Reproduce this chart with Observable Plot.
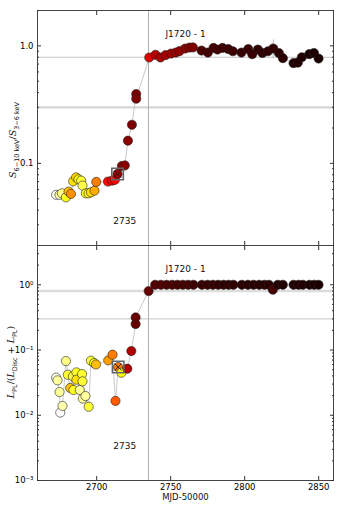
<!DOCTYPE html>
<html><head>
<meta charset="utf-8">
<script src="https://cdn.jsdelivr.net/npm/d3@7"></script>
<script src="https://cdn.jsdelivr.net/npm/@observablehq/plot@0.6"></script>
<style>
body{margin:0;background:#fff;font-family:"DejaVu Sans",sans-serif}
#c svg{display:block}
</style>
</head><body><div id="c"></div>
<script>
// ---------- data ----------
const topMjd = [2672.6, 2674.9, 2676.5, 2679.2, 2681.0, 2682.6, 2684.1, 2686.1, 2687.7, 2689.5, 2690.4, 2692.7, 2694.5, 2696.1, 2698.5, 2699.7,
  2707.6, 2710.3, 2712.3, 2714.1, 2717.0, 2719.0, 2721.1, 2723.8, 2726.7, 2726.7, 2735.5,
  2739.7, 2743.1, 2746.5, 2750.3, 2753.5, 2755.9, 2759.8, 2762.7, 2765.0, 2770.8, 2775.1, 2778.9, 2781.6, 2785.0, 2788.9, 2792.0,
  2797.8, 2802.4, 2805.1, 2808.9, 2812.0, 2815.7, 2819.3, 2823.1, 2825.8, 2833.0, 2835.9, 2838.6, 2843.6, 2846.8, 2849.9];
const topRatio = [0.054, 0.054, 0.0556, 0.0514, 0.0575, 0.055, 0.0703, 0.076, 0.0731, 0.0713, 0.0647, 0.0556, 0.0556, 0.0567, 0.0586, 0.0695,
  0.070, 0.0713, 0.0724, 0.0813, 0.095, 0.096, 0.156, 0.213, 0.389, 0.355, 0.796,
  0.839, 0.796, 0.834, 0.86, 0.877, 0.901, 0.949, 0.967, 0.97, 0.912, 0.877, 0.96, 0.93, 0.96, 0.94, 0.90,
  0.877, 0.94, 0.85, 0.93, 0.87, 0.90, 0.95, 0.87, 0.786, 0.713, 0.72, 0.80, 0.85, 0.87, 0.78];
const topErr = [0.07, 0.07, 0.07, 0.07, 0.07, 0.07, 0.07, 0.07, 0.07, 0.07, 0.07, 0.07, 0.07, 0.07, 0.07, 0.07,
  0.08, 0.08, 0.1, 0.1, 0.06, 0.06, 0.05, 0.05, 0.04, 0.04, 0.02,
  0.03, 0.03, 0.03, 0.03, 0.03, 0.03, 0.03, 0.03, 0.03, 0.03, 0.03, 0.03, 0.03, 0.03, 0.03, 0.03,
  0.03, 0.03, 0.05, 0.03, 0.03, 0.03, 0.18, 0.03, 0.03, 0.03, 0.03, 0.03, 0.03, 0.03, 0.03];
const topColor = [0.02, 0.08, 0.12, 0.22, 0.35, 0.42, 0.3, 0.32, 0.25, 0.2, 0.18, 0.22, 0.22, 0.3, 0.38, 0.45,
  0.62, 0.65, 0.63, 0.78, 0.8, 0.8, 0.8, 0.82, 0.82, 0.82, 0.68,
  0.74, 0.75, 0.76, 0.77, 0.78, 0.79, 0.8, 0.81, 0.82, 0.89, 0.9, 0.9, 0.9, 0.91, 0.91, 0.91,
  0.92, 0.92, 0.92, 0.93, 0.93, 0.93, 0.93, 0.94, 0.94, 0.95, 0.95, 0.95, 0.96, 0.96, 0.96];

const botMjd = [2672.6, 2673.5, 2674.9, 2675.4, 2676.9, 2679.2, 2680.5, 2682.1, 2683.9, 2684.3, 2686.3, 2686.3, 2688.6, 2690.1, 2690.4, 2690.6,
  2692.4, 2694.6, 2696.1, 2698.2, 2699.5, 2707.8, 2710.7, 2712.7, 2714.5, 2716.7, 2720.7, 2723.4, 2726.3, 2726.3, 2735.1,
  2739.5, 2743.4, 2747.2, 2751.0, 2754.6, 2758.2, 2761.8, 2765.4, 2771.1, 2774.9, 2778.5, 2782.1, 2785.7, 2789.1, 2792.4,
  2798.1, 2802.2, 2806.0, 2809.8, 2813.4, 2816.4, 2819.0, 2822.4, 2825.8, 2833.0, 2836.4, 2839.3, 2843.8, 2847.0, 2849.9];
const botFrac = [0.0377, 0.0343, 0.0227, 0.011, 0.0139, 0.0678, 0.0418, 0.0262, 0.0395, 0.0244, 0.0454, 0.0351, 0.0244, 0.0428, 0.0331, 0.018,
  0.0197, 0.0135, 0.0686, 0.063, 0.060, 0.0694, 0.0848, 0.0166, 0.0548, 0.0449, 0.0517, 0.0965, 0.25, 0.316, 0.80,
  1, 1, 1, 1, 1, 1, 1, 1, 1, 1, 1, 1, 1, 1, 1,
  1, 1, 1, 1, 1, 1, 0.84, 1, 1, 1, 1, 1, 1, 1, 1];
const botColor = [0.02, 0.1, 0.1, 0.0, 0.08, 0.12, 0.2, 0.35, 0.18, 0.22, 0.22, 0.3, 0.1, 0.2, 0.2, 0.1,
  0.1, 0.2, 0.18, 0.25, 0.35, 0.4, 0.45, 0.5, 0.45, 0.25, 0.75, 0.75, 0.85, 0.85, 0.85,
  0.88, 0.88, 0.89, 0.89, 0.9, 0.9, 0.9, 0.91, 0.92, 0.92, 0.92, 0.93, 0.93, 0.93, 0.93,
  0.94, 0.94, 0.94, 0.94, 0.94, 0.94, 0.9, 0.95, 0.95, 0.95, 0.95, 0.95, 0.96, 0.96, 0.96];

const topMarked = [2714.1];
const botMarked = [2714.5];

const xTicks = [2700, 2750, 2800, 2850];
const xDomain = [2660, 2860];
const topYDomain = [0.02, 2];
const topYTicks = [0.1, 1.0];
const topYTickLabels = ["0.1", "1.0"];
const topYMinor = [0.02, 0.03, 0.04, 0.05, 0.06, 0.07, 0.08, 0.09, 0.2, 0.3, 0.4, 0.5, 0.6, 0.7, 0.8, 0.9, 2];
const botYDomain = [0.001, 4];
const botYTicks = [0.001, 0.01, 0.1, 1];
const botYTickLabels = ["10\u207B\u00B3", "10\u207B\u00B2", "10\u207B\u00B9", "10\u2070"];
const botYMinor = [0.002, 0.003, 0.004, 0.005, 0.006, 0.007, 0.008, 0.009, 0.02, 0.03, 0.04, 0.05, 0.06, 0.07, 0.08, 0.09,
  0.2, 0.3, 0.4, 0.5, 0.6, 0.7, 0.8, 0.9, 2, 3, 4];
const transitionMjd = [2735];
const refLine08 = [0.8];
const refLine03 = [0.3];
const sourceLabel = "J1720 - 1";
const dateLabel = "2735";
const xAxisTitle = "MJD-50000";
const topAnno = [{x: 2760, y: 1.26, t: sourceLabel}, {x: 2719, y: 0.032, t: dateLabel}];
const botAnno = [{x: 2760, y: 1.76, t: sourceLabel}, {x: 2719, y: 0.0034, t: dateLabel}];

// ---------- helpers ----------
function hotR(c) {
  const t = 1 - c;
  const cl = v => Math.max(0, Math.min(1, v));
  const r = cl(t / 0.365), g = cl((t - 0.365) / 0.381), b = cl((t - 0.746) / 0.254);
  return d3.rgb(Math.round(r * 255), Math.round(g * 255), Math.round(b * 255)).formatHex();
}
const topData = topMjd.map((m, i) => ({mjd: m, v: topRatio[i], lo: topRatio[i] * (1 - topErr[i]), hi: topRatio[i] * (1 + topErr[i]), c: hotR(topColor[i])}));
const botData = botMjd.map((m, i) => ({mjd: m, v: botFrac[i], c: hotR(botColor[i])}));

const W = 341, ML = 37, MR = 8;
const axisColor = "#333";

function frameAxes(yTicks, yLabels, yMinor, showXLabels) {
  return [
    Plot.frame({stroke: "#444", strokeWidth: 1}),
    Plot.axisX(xTicks, {anchor: "bottom", tickSize: -4, tickPadding: showXLabels ? 7 : 0,
      tickFormat: showXLabels ? (d => String(d)) : (() => ""), label: null, stroke: axisColor, fontSize: 8.5}),
    Plot.axisX(xTicks, {anchor: "top", tickSize: -4, tickFormat: () => "", label: null, stroke: axisColor}),
    Plot.axisY(yTicks, {anchor: "left", tickSize: -4, tickPadding: 8,
      tickFormat: d => yLabels[yTicks.indexOf(d)], label: null, stroke: axisColor, fontSize: 8.5}),
    Plot.axisY(yTicks, {anchor: "right", tickSize: -4, tickFormat: () => "", label: null, stroke: axisColor}),
    Plot.axisY(yMinor, {anchor: "left", tickSize: -2, tickFormat: () => "", label: null, stroke: axisColor}),
    Plot.axisY(yMinor, {anchor: "right", tickSize: -2, tickFormat: () => "", label: null, stroke: axisColor})
  ];
}

function dataMarks(data, marked, withErr) {
  const m = [Plot.line(data, {x: "mjd", y: "v", stroke: "#bdbdbd", strokeWidth: 0.8})];
  if (withErr) {
    m.push(Plot.ruleX(data, {x: "mjd", y1: "lo", y2: "hi", stroke: "#aaa", strokeWidth: 0.8}));
  }
  m.push(Plot.dot(data, {x: "mjd", y: "v", r: 4.6, fill: "c", stroke: "#222", strokeWidth: 0.6}));
  const md = data.filter(d => marked.includes(d.mjd));
  m.push(Plot.dot(md, {x: "mjd", y: "v", symbol: "square", r: 6.5, fill: "none", stroke: "#666", strokeWidth: 1.6}));
  m.push(Plot.dot(md, {x: "mjd", y: "v", symbol: "times", r: 3.2, stroke: "#222", strokeWidth: 1}));
  return m;
}

const styleObj = {fontFamily: "DejaVu Sans", fontSize: "8.5px", color: "#000", background: "white", overflow: "visible"};

const topChart = Plot.plot({
  width: W, height: 245, marginLeft: ML, marginRight: MR, marginTop: 10, marginBottom: 0,
  x: {domain: xDomain},
  y: {type: "log", domain: topYDomain},
  style: styleObj,
  marks: [
    Plot.ruleY(refLine03, {stroke: "#d6d6d6", strokeWidth: 2.2}),
    Plot.ruleY(refLine08, {stroke: "#c4c4c4", strokeWidth: 1}),
    Plot.ruleX(transitionMjd, {stroke: "#b0b0b0", strokeWidth: 1}),
    ...dataMarks(topData, topMarked, true),
    Plot.text(topAnno, {x: "x", y: "y", text: "t", fontSize: 9, fill: "#111"}),
    ...frameAxes(topYTicks, topYTickLabels, topYMinor, false)
  ]
});

const botChart = Plot.plot({
  width: W, height: 266, marginLeft: ML, marginRight: MR, marginTop: 0, marginBottom: 31,
  x: {domain: xDomain},
  y: {type: "log", domain: botYDomain},
  style: styleObj,
  marks: [
    Plot.ruleY(refLine08, {stroke: "#dcdcdc", strokeWidth: 2.5}),
    Plot.ruleY(refLine03, {stroke: "#c4c4c4", strokeWidth: 1}),
    Plot.ruleX(transitionMjd, {stroke: "#b0b0b0", strokeWidth: 1}),
    ...dataMarks(botData, botMarked, false),
    Plot.text(botAnno, {x: "x", y: "y", text: "t", fontSize: 9, fill: "#111"}),
    Plot.text([xAxisTitle], {frameAnchor: "bottom", lineAnchor: "middle", text: d => d, dy: 17, fontSize: 8.5, fill: "#111"}),
    ...frameAxes(botYTicks, botYTickLabels, botYMinor, true)
  ]
});

function yLabel(svg, x, y, parts) {
  const t = d3.select(svg).append("text")
    .attr("transform", `translate(${x},${y}) rotate(-90)`)
    .attr("text-anchor", "middle")
    .attr("font-family", "DejaVu Sans")
    .attr("font-size", 9.5)
    .attr("fill", "#111");
  let shift = 0;
  for (const p of parts) {
    const ts = t.append("tspan").text(p.t);
    if (p.i) ts.attr("font-style", "italic").attr("font-family", "DejaVu Serif");
    const target = p.sub ? 2.5 : 0;
    if (target !== shift) { ts.attr("dy", target - shift); shift = target; }
    if (p.sub) ts.attr("font-size", 6.5);
  }
}
yLabel(topChart, 16, 140, [
  {t: "S", i: true}, {t: "6\u221210 keV", sub: true}, {t: "/"}, {t: "S", i: true}, {t: "3\u22126 keV", sub: true}
]);
yLabel(botChart, 14, 117, [
  {t: "L", i: true}, {t: "PL", sub: true}, {t: "/("}, {t: "L", i: true}, {t: "Disc", sub: true}, {t: " + "},
  {t: "L", i: true}, {t: "PL", sub: true}, {t: ")"}
]);

document.getElementById("c").append(topChart, botChart);
</script>
</body></html>
